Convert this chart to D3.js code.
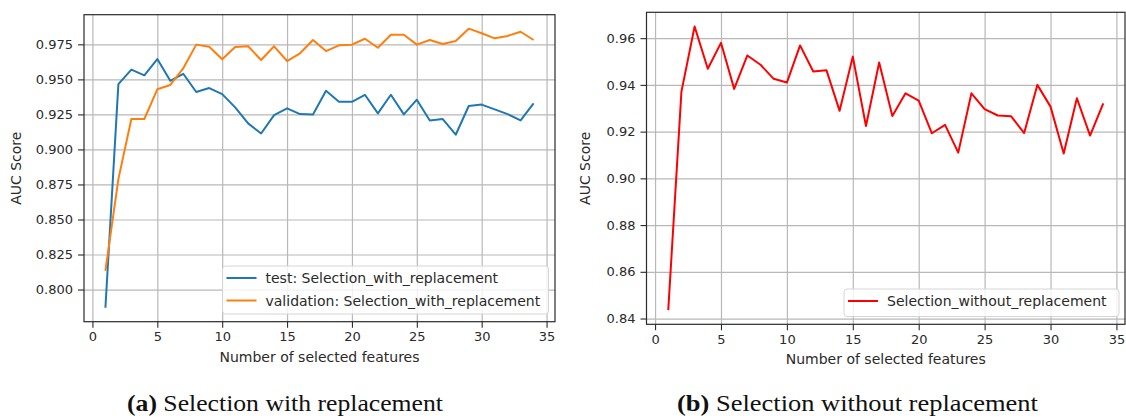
<!DOCTYPE html>
<html>
<head>
<meta charset="utf-8">
<script src="https://cdn.jsdelivr.net/npm/d3@7"></script>
<style>
  html, body { margin: 0; padding: 0; background: #fff; }
  svg { display: block; }
  .tick text { font-family: "DejaVu Sans", sans-serif; font-size: 13px; fill: #2a2a2a; }
  .lbl { font-family: "DejaVu Sans", sans-serif; font-size: 14px; fill: #2a2a2a; }
</style>
</head>
<body>
<svg id="fig" width="1126" height="419"></svg>
<script>
// Number of selected features (x values shared by all series)
const features = d3.range(1, 35);

// AUC scores, selection with replacement
const testWithReplacement = [
  0.787, 0.9466, 0.957, 0.9529, 0.9645, 0.949, 0.954, 0.941, 0.9438, 0.9395,
  0.930, 0.9186, 0.9114, 0.9245, 0.9293, 0.9252, 0.925, 0.9419, 0.934, 0.934,
  0.939, 0.9257, 0.939, 0.925, 0.9355, 0.9207, 0.9217, 0.9105, 0.931, 0.932,
  0.9286, 0.9252, 0.9207, 0.9329
];
const validationWithReplacement = [
  0.8133, 0.8788, 0.9217, 0.9217, 0.9429, 0.946, 0.9579, 0.9748, 0.9733, 0.9643,
  0.9731, 0.9736, 0.9638, 0.9736, 0.9631, 0.9686, 0.9781, 0.9702, 0.9743, 0.9748,
  0.979, 0.9726, 0.9819, 0.9819, 0.9748, 0.9781, 0.9752, 0.9774, 0.9862, 0.9829,
  0.9793, 0.981, 0.984, 0.9781
];

// AUC scores, selection without replacement
const withoutReplacement = [
  0.8436, 0.9371, 0.965, 0.9469, 0.958, 0.9383, 0.9526, 0.9486, 0.9426, 0.941,
  0.9569, 0.9457, 0.9463, 0.9289, 0.9521, 0.9224, 0.9496, 0.9267, 0.9364, 0.9333,
  0.9193, 0.9229, 0.911, 0.9364, 0.9296, 0.9269, 0.9266, 0.9194, 0.940, 0.9307,
  0.9106, 0.9343, 0.9183, 0.9321
];

// Tick values
const xTicks = [0, 5, 10, 15, 20, 25, 30, 35];
const yTicksA = [0.800, 0.825, 0.850, 0.875, 0.900, 0.925, 0.950, 0.975];
const yTicksB = [0.84, 0.86, 0.88, 0.90, 0.92, 0.94, 0.96];

// Legend labels and captions
const seriesA = [
  { label: "test: Selection_with_replacement", values: testWithReplacement, color: "#1f77b4" },
  { label: "validation: Selection_with_replacement", values: validationWithReplacement, color: "#ff7f0e" }
];
const seriesB = [
  { label: "Selection_without_replacement", values: withoutReplacement, color: "#ff0000" }
];
const captionA = ["(a)", " Selection with replacement"];
const captionB = ["(b)", " Selection without replacement"];

const svg = d3.select("#fig");

// matplotlib-style autoscale: 5% padding on each side of the data range
function padded(vals) {
  const [lo, hi] = d3.extent(vals);
  const m = (hi - lo) * 0.05;
  return [lo - m, hi + m];
}

function panel(opts) {
  const { left, right, top, bottom, series, yTicks, yFormat, legend, caption } = opts;
  const g = svg.append("g");

  const x = d3.scaleLinear().domain(padded(features)).range([left, right]);
  const allY = series.flatMap(s => s.values);
  const y = d3.scaleLinear().domain(padded(allY)).range([bottom, top]);

  // grid
  g.append("g")
    .attr("transform", `translate(0,${bottom})`)
    .call(d3.axisBottom(x).tickValues(xTicks).tickSize(-(bottom - top)).tickFormat(""))
    .call(a => a.select(".domain").remove())
    .call(a => a.selectAll("line").attr("stroke", "#b8b8b8").attr("stroke-width", 1.2));
  g.append("g")
    .attr("transform", `translate(${left},0)`)
    .call(d3.axisLeft(y).tickValues(yTicks).tickSize(-(right - left)).tickFormat(""))
    .call(a => a.select(".domain").remove())
    .call(a => a.selectAll("line").attr("stroke", "#b8b8b8").attr("stroke-width", 1.2));

  // lines
  const line = d3.line().x((d, i) => x(features[i])).y(d => y(d));
  g.append("g").selectAll("path.series")
    .data(series).join("path")
    .attr("class", "series")
    .attr("d", s => line(s.values))
    .attr("fill", "none")
    .attr("stroke", s => s.color)
    .attr("stroke-width", 2)
    .attr("stroke-linejoin", "round")
    .attr("stroke-linecap", "butt");

  // axes with ticks and labels
  const xa = g.append("g")
    .attr("transform", `translate(0,${bottom})`)
    .call(d3.axisBottom(x).tickValues(xTicks).tickSize(6).tickPadding(4).tickFormat(d3.format("d")));
  xa.select(".domain").remove();
  xa.selectAll("line").attr("stroke", "#2a2a2a").attr("stroke-width", 1.1);

  const ya = g.append("g")
    .attr("transform", `translate(${left},0)`)
    .call(d3.axisLeft(y).tickValues(yTicks).tickSize(6).tickPadding(5).tickFormat(d3.format(yFormat)));
  ya.select(".domain").remove();
  ya.selectAll("line").attr("stroke", "#2a2a2a").attr("stroke-width", 1.1);

  // frame
  g.append("rect")
    .attr("x", left).attr("y", top)
    .attr("width", right - left).attr("height", bottom - top)
    .attr("fill", "none").attr("stroke", "#2a2a2a").attr("stroke-width", 1.2);

  // axis titles
  g.append("text")
    .attr("class", "lbl")
    .attr("x", (left + right) / 2).attr("y", bottom + 40)
    .attr("text-anchor", "middle")
    .text("Number of selected features");
  g.append("text")
    .attr("class", "lbl")
    .attr("transform", `translate(${opts.yLabelX},${(top + bottom) / 2}) rotate(-90)`)
    .attr("text-anchor", "middle")
    .text("AUC Score");

  // legend
  const lg = g.append("g");
  lg.append("rect")
    .attr("x", legend.x).attr("y", legend.y)
    .attr("width", legend.w).attr("height", legend.h)
    .attr("rx", 3)
    .attr("fill", "#fff").attr("fill-opacity", 0.8)
    .attr("stroke", "#d6d6d6").attr("stroke-width", 1);
  series.forEach((s, i) => {
    const cy = legend.y + 12 + i * 22.5;
    lg.append("line")
      .attr("x1", legend.x + 4).attr("x2", legend.x + 34)
      .attr("y1", cy).attr("y2", cy)
      .attr("stroke", s.color).attr("stroke-width", 2);
    lg.append("text")
      .attr("class", "lbl")
      .attr("x", legend.x + 43).attr("y", cy + 5)
      .text(s.label);
  });

  // caption
  const cap = svg.append("text")
    .attr("x", caption.x).attr("y", 411)
    .attr("textLength", caption.w).attr("lengthAdjust", "spacingAndGlyphs")
    .style("font-family", "Liberation Serif, serif").style("font-size", "22.5px").style("fill", "#111");
  cap.append("tspan").style("font-weight", "bold").text(caption.text[0]);
  cap.append("tspan").text(caption.text[1]);
}

panel({
  left: 84, right: 555, top: 14.7, bottom: 321.7,
  series: seriesA, yTicks: yTicksA, yFormat: ".3f", yLabelX: 21,
  legend: { x: 222.5, y: 266, w: 326, h: 48 },
  caption: { x: 127, w: 316, text: captionA }
});

panel({
  left: 646.5, right: 1125, top: 12.3, bottom: 324.3,
  series: seriesB, yTicks: yTicksB, yFormat: ".2f", yLabelX: 590,
  legend: { x: 844, y: 289, w: 275, h: 27.5 },
  caption: { x: 677, w: 361, text: captionB }
});
</script>
</body>
</html>
